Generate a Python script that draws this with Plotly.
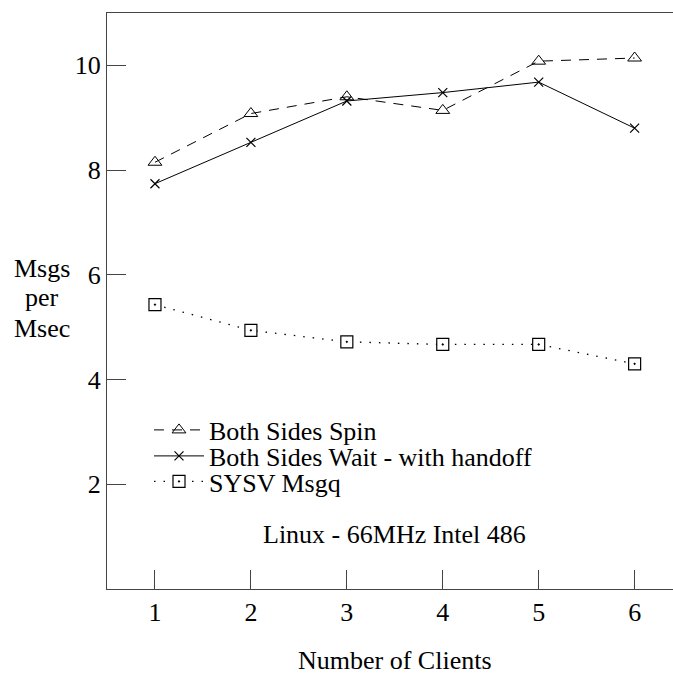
import plotly.graph_objects as go

# Throughput (messages per millisecond) versus number of clients
clients = [1, 2, 3, 4, 5, 6]
spin = [8.15, 9.08, 9.40, 9.14, 10.08, 10.14]
wait_handoff = [7.74, 8.53, 9.32, 9.48, 9.68, 8.80]
sysv_msgq = [5.43, 4.94, 4.72, 4.67, 4.67, 4.30]

series_names = ["Both Sides Spin", "Both Sides Wait - with handoff", "SYSV Msgq"]
x_ticks = [1, 2, 3, 4, 5, 6]
y_ticks = [2, 4, 6, 8, 10]
y_title_lines = ["Msgs", "per", "Msec"]
x_title = "Number of Clients"
note = "Linux - 66MHz Intel 486"

FONT = "Liberation Serif"
FS = 26
W, H = 673, 674
L, R, T, B = 107, 0, 13, 85
PW, PH = W - L - R, H - T - B


def px_x(px):
    return (px - L) / PW


def px_y(py):
    return (H - B - py) / PH


fig = go.Figure()

fig.add_trace(go.Scatter(
    x=clients, y=spin, mode="lines+markers", name=series_names[0],
    line=dict(color="black", width=1, dash="10px,8px"),
    marker=dict(symbol="triangle-up-open", size=12, color="black",
                line=dict(width=1, color="black")),
    legend="legend",
))
fig.add_trace(go.Scatter(
    x=clients, y=wait_handoff, mode="lines+markers", name=series_names[1],
    line=dict(color="black", width=1),
    marker=dict(symbol="x-thin-open", size=9, color="black",
                line=dict(width=1.2, color="black")),
    legend="legend2",
))
fig.add_trace(go.Scatter(
    x=clients, y=sysv_msgq, mode="lines+markers", name=series_names[2],
    line=dict(color="black", width=1.3, dash="1.5px,8px"),
    marker=dict(symbol="square-dot", size=12, color="white",
                line=dict(width=1.2, color="black")),
    legend="legend3",
))

# one legend per row so the rows sit as tightly as the text
legend_common = dict(
    font=dict(family=FONT, size=FS, color="black"),
    bgcolor="rgba(0,0,0,0)", borderwidth=0,
    xanchor="left", yanchor="middle", itemwidth=50,
    tracegroupgap=0,
)
legend_rows = [430, 456, 481.5]
fig.update_layout(
    legend=dict(x=px_x(149), y=px_y(legend_rows[0]), **legend_common),
    legend2=dict(x=px_x(149), y=px_y(legend_rows[1]), **legend_common),
    legend3=dict(x=px_x(149), y=px_y(legend_rows[2]), **legend_common),
)

axis_line = dict(showline=True, linecolor="#444", linewidth=1.2,
                 ticks="inside", ticklen=19, tickcolor="#444", tickwidth=1.2,
                 showgrid=False, zeroline=False,
                 tickfont=dict(family=FONT, size=FS, color="black"))

fig.update_xaxes(range=[0.5, 6.4], tickmode="array", tickvals=x_ticks,
                 ticktext=[str(v) for v in x_ticks], mirror=True, **axis_line)
fig.update_yaxes(range=[0, 11], tickmode="array", tickvals=y_ticks,
                 ticktext=[str(v) for v in y_ticks], mirror=False, **axis_line)

annotations = []
for line, py in zip(y_title_lines, [268, 297.5, 328]):
    annotations.append(dict(text=line, x=px_x(42), y=px_y(py), xref="paper",
                            yref="paper", xanchor="center", yanchor="middle",
                            showarrow=False,
                            font=dict(family=FONT, size=FS, color="black")))
annotations.append(dict(text=note, x=px_x(394), y=px_y(534), xref="paper",
                        yref="paper", xanchor="center", yanchor="middle",
                        showarrow=False,
                        font=dict(family=FONT, size=FS, color="black")))
annotations.append(dict(text=x_title, x=px_x(395), y=px_y(660), xref="paper",
                        yref="paper", xanchor="center", yanchor="middle",
                        showarrow=False,
                        font=dict(family=FONT, size=FS, color="black")))

fig.update_layout(
    width=W, height=H,
    margin=dict(l=L, r=R, t=T, b=B),
    paper_bgcolor="white", plot_bgcolor="white",
    annotations=annotations,
    showlegend=True,
)

fig.write_html("out.html", include_plotlyjs=True, full_html=True,
               config={"displayModeBar": False})
